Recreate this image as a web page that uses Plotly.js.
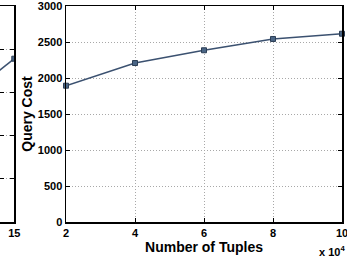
<!DOCTYPE html>
<html><head><meta charset="utf-8">
<script src="https://cdn.plot.ly/plotly-3.0.1.min.js"></script>
<style>html,body{margin:0;padding:0;background:#fff;}</style>
</head><body>
<div id="chart" style="width:347px;height:257px;"></div>
<script>
// Main chart data
const tuples = [20000, 40000, 60000, 80000, 100000];
const queryCost = [1893, 2208, 2385, 2542, 2615];
// Partially visible neighbouring chart (cut off on the left)
const leftX = [10, 15];
const leftY = [1050, 1890];

const xTickVals = [20000, 40000, 60000, 80000, 100000];
const xTickText = ['2', '4', '6', '8', '10'];
const yTickVals = [0, 500, 1000, 1500, 2000, 2500, 3000];

const lineColor = '#3b5170';
const font = {family: 'Liberation Sans, Arial, sans-serif', size: 11, color: '#000', weight: 700};

const traces = [
  {x: tuples, y: queryCost, type: 'scatter', mode: 'lines+markers', xaxis: 'x', yaxis: 'y',
   line: {color: lineColor, width: 1.5}, cliponaxis: false,
   marker: {symbol: 'square', size: 5, color: '#4a6585', line: {color: '#2c3e55', width: 1}}},
  {x: leftX, y: leftY, type: 'scatter', mode: 'lines+markers', xaxis: 'x2', yaxis: 'y2',
   line: {color: lineColor, width: 1.5}, cliponaxis: true,
   marker: {symbol: 'square', size: 5, color: '#4a6585', line: {color: '#2c3e55', width: 1}}}
];

const axisCommon = {
  showline: true, linecolor: '#000', linewidth: 1.5, mirror: 'ticks',
  ticks: 'inside', ticklen: 4, tickcolor: '#000',
  showgrid: true, gridcolor: '#a8a8a8', griddash: '1px,2px', gridwidth: 1,
  zeroline: false, tickfont: font, ticklabeloverflow: 'allow'
};

const layout = {
  width: 347, height: 257,
  margin: {l: 0, r: 5, t: 6, b: 35},
  paper_bgcolor: '#fff', plot_bgcolor: '#fff',
  showlegend: false,
  xaxis: Object.assign({}, axisCommon, {
    domain: [66/342, 1], range: [20000, 100000],
    tickvals: xTickVals, ticktext: xTickText,
    title: {text: 'Number of Tuples', font: {family: font.family, size: 14, color: '#000', weight: 700}, standoff: 0}
  }),
  yaxis: Object.assign({}, axisCommon, {
    range: [0, 3000], tickvals: yTickVals, anchor: 'x',
    title: {text: 'Query Cost', font: {family: font.family, size: 14, color: '#000', weight: 700}, standoff: 2}
  }),
  xaxis2: Object.assign({}, axisCommon, {
    domain: [0, 14.3/342], range: [14.22, 15], anchor: 'y2',
    tickvals: [15], ticktext: ['15'], showgrid: false
  }),
  yaxis2: Object.assign({}, axisCommon, {
    range: [0, 2500], tickvals: [0, 500, 1000, 1500, 2000, 2500], anchor: 'x2',
    showticklabels: false
  }),
  annotations: [
    {xref: 'paper', yref: 'paper', x: 1, y: -0.12, xanchor: 'right', yanchor: 'middle', xshift: 5, yshift: -3,
     showarrow: false, text: 'x 10<sup>4</sup>', font: {family: font.family, size: 11, color: '#000', weight: 700}}
  ]
};

Plotly.newPlot('chart', traces, layout, {displayModeBar: false, staticPlot: true});
</script>
</body></html>
